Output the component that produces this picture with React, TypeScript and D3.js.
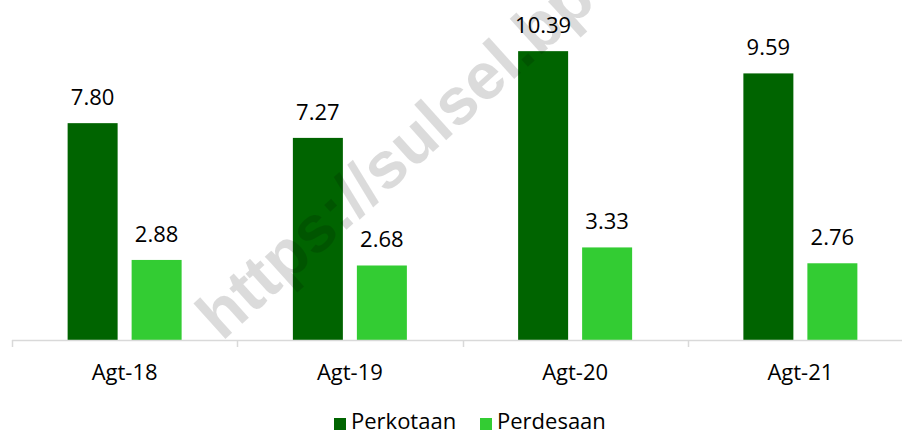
import React from "react";
import * as d3 from "d3";

const categories = ["Agt-18", "Agt-19", "Agt-20", "Agt-21"];
const seriesNames = ["Perkotaan", "Perdesaan"];
const perkotaan = [7.8, 7.27, 10.39, 9.59];
const perdesaan = [2.88, 2.68, 3.33, 2.76];
const colors = ["#006400", "#33CC33"];

const W = 902;
const H = 434;
const FONT = "'Open Sans', sans-serif";

export default function App() {
  const values = [perkotaan, perdesaan];
  const x0 = d3.scaleBand<string>().domain(categories).range([12, 913]).paddingInner(0).paddingOuter(0);
  const x1 = d3.scaleBand<string>().domain(seriesNames).range([-57, 57]).paddingInner(14 / 64).paddingOuter(0);
  const y = d3.scaleLinear().domain([0, 12]).range([340, 6.4]);
  const baseY = y(0);

  return (
    <svg width={W} height={H} style={{ position: "absolute", left: 0, top: 0, background: "#fff" }}>
      <rect x={0} y={0} width={W} height={H} fill="#fff" />
      {categories.map((c, i) => {
        const cx = (x0(c) as number) + x0.bandwidth() / 2;
        return (
          <g key={c}>
            {seriesNames.map((s, j) => {
              const v = values[j][i];
              const bx = cx + (x1(s) as number);
              return (
                <g key={s}>
                  <rect x={bx} y={y(v)} width={x1.bandwidth()} height={baseY - y(v)} fill={colors[j]} />
                  <text
                    x={bx + x1.bandwidth() / 2}
                    y={y(v) - 18}
                    textAnchor="middle"
                    fontFamily={FONT}
                    fontSize={22}
                    fill="#000"
                  >
                    {v.toFixed(2)}
                  </text>
                </g>
              );
            })}
            <text x={cx} y={380} textAnchor="middle" fontFamily={FONT} fontSize={22} fill="#000">
              {c}
            </text>
          </g>
        );
      })}
      <line x1={12} x2={W} y1={340.5} y2={340.5} stroke="#d9d9d9" strokeWidth={1.5} />
      {categories.map((c) => {
        const tx = Math.round(x0(c) as number) + 0.5;
        return <line key={"t" + c} x1={tx} x2={tx} y1={340} y2={347} stroke="#d9d9d9" strokeWidth={1.5} />;
      })}
      <text
        x={0}
        y={0}
        transform="translate(222,342) rotate(-42)"
        fontFamily="'Liberation Sans', Arial, sans-serif"
        fontWeight="bold"
        fontSize={66}
        fill="#000"
        fillOpacity={0.14}
      >
        https://sulsel.bps.go.id
      </text>
      {seriesNames.map((s, j) => {
        const lx = j === 0 ? 334 : 480;
        return (
          <g key={"l" + s}>
            <rect x={lx} y={418} width={12} height={12} fill={colors[j]} />
            <text x={lx + 17} y={429} fontFamily={FONT} fontSize={22} fill="#000">
              {s}
            </text>
          </g>
        );
      })}
    </svg>
  );
}
